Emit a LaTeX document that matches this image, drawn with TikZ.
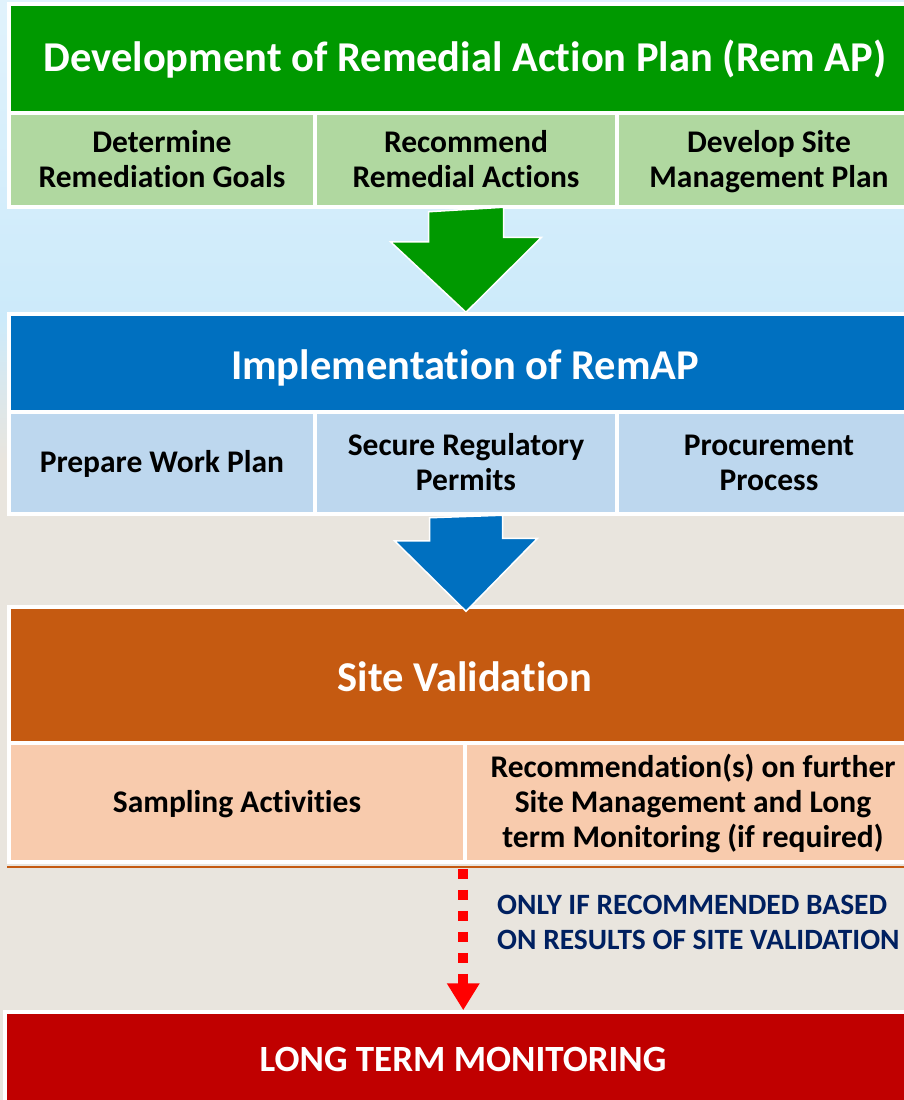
\documentclass[tikz,border=0pt]{standalone}
\usepackage{fontspec}
\setmainfont{Carlito}[Ligatures=CommonOff]
\usetikzlibrary{arrows.meta,calc}

\definecolor{planGreen}{RGB}{0,153,0}
\definecolor{planLight}{RGB}{176,216,160}
\definecolor{implBlue}{RGB}{0,112,192}
\definecolor{implLight}{RGB}{189,215,238}
\definecolor{valOrange}{RGB}{197,90,17}
\definecolor{valLight}{RGB}{248,203,173}
\definecolor{monRed}{RGB}{192,0,0}
\definecolor{noteNavy}{RGB}{0,32,96}
\definecolor{skyBlue}{RGB}{204,234,250}
\definecolor{mosaic}{RGB}{233,229,222}

\begin{document}
\begin{tikzpicture}[x=1pt, y=-1pt,
	cell/.style={draw=white, line width=3.5pt, inner sep=0pt, align=center,
		font=\bfseries\fontsize{31.5}{35}\selectfont, text height=19pt, text depth=0pt},
	two lines/.style={text height=54pt},
	three lines/.style={text height=89pt},
	head/.style={cell, text=white, font=\bfseries\fontsize{42.5}{46}\selectfont,
		text height=35pt, text depth=9pt},
	blockarrow/.style={draw=white, line width=1.5pt, line join=miter},
	flowdash/.style={red, line width=10pt, dash pattern=on 10pt off 11pt,
		-{Triangle[width=31pt, length=27pt]}}]
	\useasboundingbox (0,0) rectangle (904,1100);
	\clip (0,0) rectangle (904,1100);
	% backdrop
	\fill[mosaic] (0,0) rectangle (904,1100);
	\shade[top color=white!40!skyBlue, bottom color=skyBlue] (0,0) rectangle (904,320);
	\shade[top color=skyBlue, bottom color=mosaic] (0,319) rectangle (904,460);

	% remedial action plan
	\node[head, fill=planGreen, minimum width=912pt, minimum height=109pt] (plan) at (465,58.5)
		{Development of Remedial Action Plan (Rem AP)};
	\node[cell, two lines, fill=planLight, minimum width=306pt, minimum height=94pt] (goals) at (162,160)
		{Determine\\Remediation Goals};
	\node[cell, two lines, fill=planLight, minimum width=302pt, minimum height=94pt] (recommend) at (466,160)
		{Recommend\\Remedial Actions};
	\node[cell, two lines, fill=planLight, minimum width=304pt, minimum height=94pt] (siteplan) at (769,160)
		{Develop Site\\Management Plan};

	% implementation
	\node[head, text height=41pt, fill=implBlue, minimum width=912pt, minimum height=98pt] (implement) at (465,363)
		{Implementation of RemAP};
	\node[cell, fill=implLight, minimum width=306pt, minimum height=102pt] (workplan) at (162,463)
		{Prepare Work Plan};
	\node[cell, two lines, fill=implLight, minimum width=302pt, minimum height=102pt] (permits) at (466,463)
		{Secure Regulatory\\Permits};
	\node[cell, two lines, fill=implLight, minimum width=304pt, minimum height=102pt] (procure) at (769,463)
		{Procurement\\Process};

	% site validation
	\node[head, text height=41pt, fill=valOrange, minimum width=912pt, minimum height=136pt] (validation) at (465,675)
		{Site Validation};
	\node[cell, fill=valLight, minimum width=456pt, minimum height=119pt] (sampling) at (237,802.5)
		{Sampling Activities};
	\node[cell, three lines, fill=valLight, minimum width=456pt, minimum height=119pt] (recommendation) at (693,802.5)
		{Recommendation(s) on further\\Site Management and Long\\term Monitoring (if required)};
	\draw[valOrange, line width=2.5pt] ($(sampling.south west)+(0,3)$) -- ($(recommendation.south east)+(0,3)$);

	% monitoring
	\node[head, text height=37pt, fill=monRed, minimum width=916pt, minimum height=90pt,
		font=\bfseries\fontsize{37}{40}\selectfont] (monitor) at (463,1057) {LONG TERM MONITORING};
	\node[anchor=west, align=left, text=noteNavy, inner sep=0pt,
		font=\bfseries\fontsize{29.5}{35}\selectfont] (note) at (497,922)
		{ONLY IF RECOMMENDED BASED\\ON RESULTS OF SITE VALIDATION};

	% flow arrows
	\draw[blockarrow, fill=planGreen] ($(recommend.south)+(-37.5,3)$) -- ++(0,30) -- ++(-38,0)
		-- (recommend.south |- implement.north) -- ++(75.5,-75) -- ++(-38,0) -- ++(0,-30) -- cycle;
	\draw[blockarrow, fill=implBlue] ($(permits.south)+(-36.5,2)$) -- ++(0,23) -- ++(-35,0)
		-- ($(permits.south |- validation.north)+(0,6)$) -- ++(71.5,-73) -- ++(-35,0) -- ++(0,-23) -- cycle;
	\draw[flowdash] ($(recommendation.south west)+(0,5)$) -- (recommendation.south west |- monitor.north);
\end{tikzpicture}
\end{document}
